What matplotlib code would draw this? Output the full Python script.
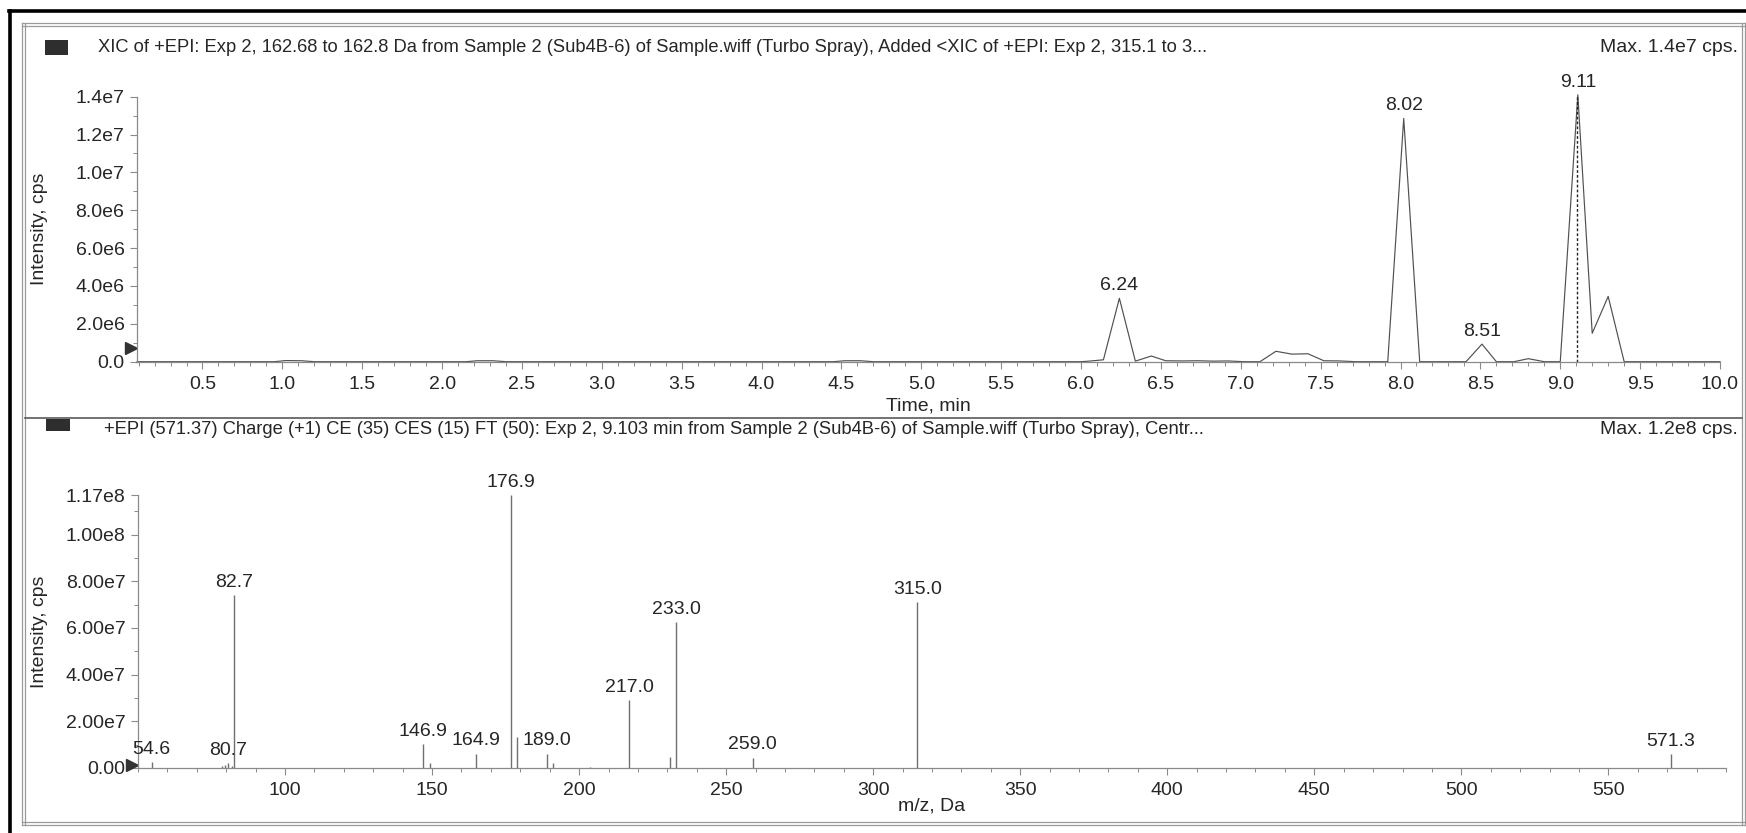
import matplotlib
matplotlib.use("Agg")
import matplotlib.pyplot as plt
from matplotlib.lines import Line2D
from matplotlib.patches import Rectangle
from matplotlib.ticker import MultipleLocator, FixedLocator

# ---------------- data ----------------
# Summed XIC trace (time in min, intensity in cps)
xic_time = [0.09, 0.95, 1.02, 1.12, 1.20, 2.15, 2.22, 2.32, 2.40, 4.45, 4.52,
            4.62, 4.70, 6.00, 6.05, 6.14, 6.24, 6.34, 6.44, 6.53, 6.63, 6.73,
            6.83, 6.92, 7.02, 7.12, 7.22, 7.32, 7.42, 7.52, 7.62, 7.72, 7.92,
            8.02, 8.12, 8.41, 8.51, 8.60, 8.71, 8.80, 8.90, 9.00, 9.11, 9.20,
            9.30, 9.40, 10.00]
xic_int = [0, 0, 0.06e6, 0.05e6, 0, 0, 0.05e6, 0.05e6, 0, 0, 0.05e6,
           0.05e6, 0, 0, 0.03e6, 0.10e6, 3.35e6, 0.03e6, 0.30e6, 0.05e6, 0.04e6, 0.05e6,
           0.03e6, 0.04e6, 0, 0, 0.55e6, 0.40e6, 0.42e6, 0.05e6, 0.04e6, 0, 0,
           12.85e6, 0, 0, 0.93e6, 0, 0, 0.16e6, 0, 0, 14.1e6, 1.50e6,
           3.45e6, 0, 0]
xic_labelled = [6.24, 8.02, 8.51, 9.11]
spectrum_time = 9.103

# Product ion spectrum at 9.103 min (m/z in Da, intensity in cps)
mz = [54.6, 78.7, 79.7, 80.7, 81.8, 82.7, 146.9, 149.2, 164.9, 176.9, 179.0,
      189.0, 191.0, 203.8, 217.0, 230.8, 233.0, 259.0, 315.0, 571.3]
mz_int = [2.5e6, 0.8e6, 1.2e6, 2.2e6, 1.0e6, 7.40e7, 1.02e7, 2.0e6, 6.2e6, 1.17e8, 1.34e7,
          6.2e6, 2.3e6, 0.6e6, 2.91e7, 4.6e6, 6.24e7, 4.5e6, 7.10e7, 5.8e6]
mz_labelled = [54.6, 80.7, 82.7, 146.9, 164.9, 176.9, 189.0, 217.0, 233.0,
               259.0, 315.0, 571.3]

top_yticks = [0, 2e6, 4e6, 6e6, 8e6, 1.0e7, 1.2e7, 1.4e7]
top_ylabels = ["0.0", "2.0e6", "4.0e6", "6.0e6", "8.0e6", "1.0e7", "1.2e7", "1.4e7"]
top_xticks = [0.5, 1.0, 1.5, 2.0, 2.5, 3.0, 3.5, 4.0, 4.5, 5.0, 5.5, 6.0, 6.5,
              7.0, 7.5, 8.0, 8.5, 9.0, 9.5, 10.0]
bot_yticks = [0, 2e7, 4e7, 6e7, 8e7, 1.0e8, 1.17e8]
bot_ylabels = ["0.00", "2.00e7", "4.00e7", "6.00e7", "8.00e7", "1.00e8", "1.17e8"]
bot_xticks = [100, 150, 200, 250, 300, 350, 400, 450, 500, 550]

top_title = ("XIC of +EPI: Exp 2, 162.68 to 162.8 Da from Sample 2 (Sub4B-6) of "
             "Sample.wiff (Turbo Spray), Added <XIC of +EPI: Exp 2, 315.1 to 3...")
top_max = "Max. 1.4e7 cps."
bot_title = ("+EPI (571.37) Charge (+1) CE (35) CES (15) FT (50): Exp 2, 9.103 min "
             "from Sample 2 (Sub4B-6) of Sample.wiff (Turbo Spray), Centr...")
bot_max = "Max. 1.2e8 cps."

# ---------------- style ----------------
W, H, DPI = 1746, 833, 100
plt.rcParams["font.family"] = ["Liberation Sans", "DejaVu Sans"]
TXT = "#262626"
AXC = "#8a8a8a"
FS = 14
FS_HEAD = 13.2

fig = plt.figure(figsize=(W / DPI, H / DPI), dpi=DPI, facecolor="white")


def fx(x):
    return x / W


def fy(y):
    return 1 - y / H


def hline(x0, x1, y, color, lw):
    fig.add_artist(Line2D([fx(x0), fx(x1)], [fy(y), fy(y)], color=color, lw=lw,
                          transform=fig.transFigure))


def vline(x, y0, y1, color, lw):
    fig.add_artist(Line2D([fx(x), fx(x)], [fy(y0), fy(y1)], color=color, lw=lw,
                          transform=fig.transFigure))


# page frame
hline(9, W, 11, "black", 2.6)
vline(10, 11, H, "black", 2.6)
for off in (0, 3):
    hline(22, 1745, 23 + off, "#9a9a9a", 0.9)
    hline(22, 1745, 822 + off, "#9a9a9a", 0.9)
    vline(22 + off, 23, 825, "#9a9a9a", 0.9)
    vline(1742 + off, 23, 825, "#9a9a9a", 0.9)
hline(25, 1742, 418, "#5a5a5a", 1.2)


def style_axes(ax):
    for s in ("top", "right"):
        ax.spines[s].set_visible(False)
    for s in ("left", "bottom"):
        ax.spines[s].set_color(AXC)
        ax.spines[s].set_linewidth(0.9)
    ax.tick_params(which="major", direction="out", length=5, width=0.8,
                   color=AXC, labelsize=FS, labelcolor=TXT)
    ax.tick_params(which="minor", direction="out", length=3, width=0.7, color=AXC)
    ax.tick_params(axis="x", which="major", pad=5)
    ax.tick_params(axis="y", which="major", pad=4)
    ax.set_facecolor("none")


# ---------------- XIC panel ----------------
ax1 = fig.add_axes([fx(137), fy(361.7), fx(1720) - fx(137), (361.7 - 96.7) / H])
style_axes(ax1)
ax1.plot(xic_time, xic_int, color="#505050", lw=0.85, clip_on=False)
ax1.set_xlim(0.09, 10.0)
ax1.set_ylim(0, 1.4e7)
ax1.xaxis.set_major_locator(FixedLocator(top_xticks))
ax1.set_xticklabels([f"{t:.1f}" for t in top_xticks])
ax1.xaxis.set_minor_locator(MultipleLocator(0.1))
ax1.yaxis.set_major_locator(FixedLocator(top_yticks))
ax1.set_yticklabels(top_ylabels)
ax1.yaxis.set_minor_locator(MultipleLocator(1e6))
ax1.set_xlabel("Time, min", fontsize=FS, color=TXT, va="center")
ax1.xaxis.set_label_coords(0.5, -(406 - 361.7) / 265)
ax1.set_ylabel("Intensity, cps", fontsize=FS, color=TXT, va="center")
ax1.yaxis.set_label_coords((39 - 137) / 1583, 0.5)

for t in xic_labelled:
    i = xic_time.index(t)
    ax1.annotate(f"{t:.2f}", (t, xic_int[i]), xytext=(0, 3), textcoords="offset points",
                 ha="center", va="bottom", fontsize=FS, color=TXT, annotation_clip=False)
apex = xic_int[xic_time.index(9.11)]
ax1.vlines(spectrum_time, 0, apex, colors="#222222", linestyles=(0, (2, 1.5)),
           lw=1.0, clip_on=False)
ax1.plot([-0.004], [0.05], marker=">", ms=9, color="#333333",
         transform=ax1.transAxes, clip_on=False)

# ---------------- spectrum panel ----------------
ax2 = fig.add_axes([fx(138), fy(768), fx(1726) - fx(138), (768 - 495) / H])
style_axes(ax2)
ax2.vlines(mz, 0, mz_int, colors="#707070", lw=1.0)
ax2.set_xlim(50, 590)
ax2.set_ylim(0, 1.17e8)
ax2.xaxis.set_major_locator(FixedLocator(bot_xticks))
ax2.set_xticklabels([str(v) for v in bot_xticks])
ax2.xaxis.set_minor_locator(MultipleLocator(10))
ax2.yaxis.set_major_locator(FixedLocator(bot_yticks))
ax2.set_yticklabels(bot_ylabels)
ax2.yaxis.set_minor_locator(MultipleLocator(1e7))
ax2.set_xlabel("m/z, Da", fontsize=FS, color=TXT, va="center")
ax2.xaxis.set_label_coords(0.5, -(806 - 768) / 273)
ax2.set_ylabel("Intensity, cps", fontsize=FS, color=TXT, va="center")
ax2.yaxis.set_label_coords((40 - 138) / 1588, 0.5)

for m in mz_labelled:
    i = mz.index(m)
    ax2.annotate(f"{m:.1f}", (m, mz_int[i]), xytext=(0, 3), textcoords="offset points",
                 ha="center", va="bottom", fontsize=FS, color=TXT, annotation_clip=False)
ax2.plot([-0.004], [0.01], marker=">", ms=9, color="#333333",
         transform=ax2.transAxes, clip_on=False)

# ---------------- panel headers ----------------
fig.add_artist(Rectangle((fx(45), fy(55)), fx(68) - fx(45), (55 - 40) / H,
                         facecolor="#2e2e2e", edgecolor="none", transform=fig.transFigure))
fig.add_artist(Rectangle((fx(46), fy(431)), fx(70) - fx(46), (431 - 419) / H,
                         facecolor="#2e2e2e", edgecolor="none", transform=fig.transFigure))
fig.text(fx(98), fy(48), top_title, fontsize=FS_HEAD, color=TXT, ha="left", va="center")
fig.text(fx(1738), fy(48), top_max, fontsize=FS, color=TXT, ha="right", va="center")
fig.text(fx(104), fy(429), bot_title, fontsize=FS_HEAD, color=TXT, ha="left", va="center")
fig.text(fx(1738), fy(429), bot_max, fontsize=FS, color=TXT, ha="right", va="center")

fig.savefig("out.png", dpi=DPI, facecolor="white")
